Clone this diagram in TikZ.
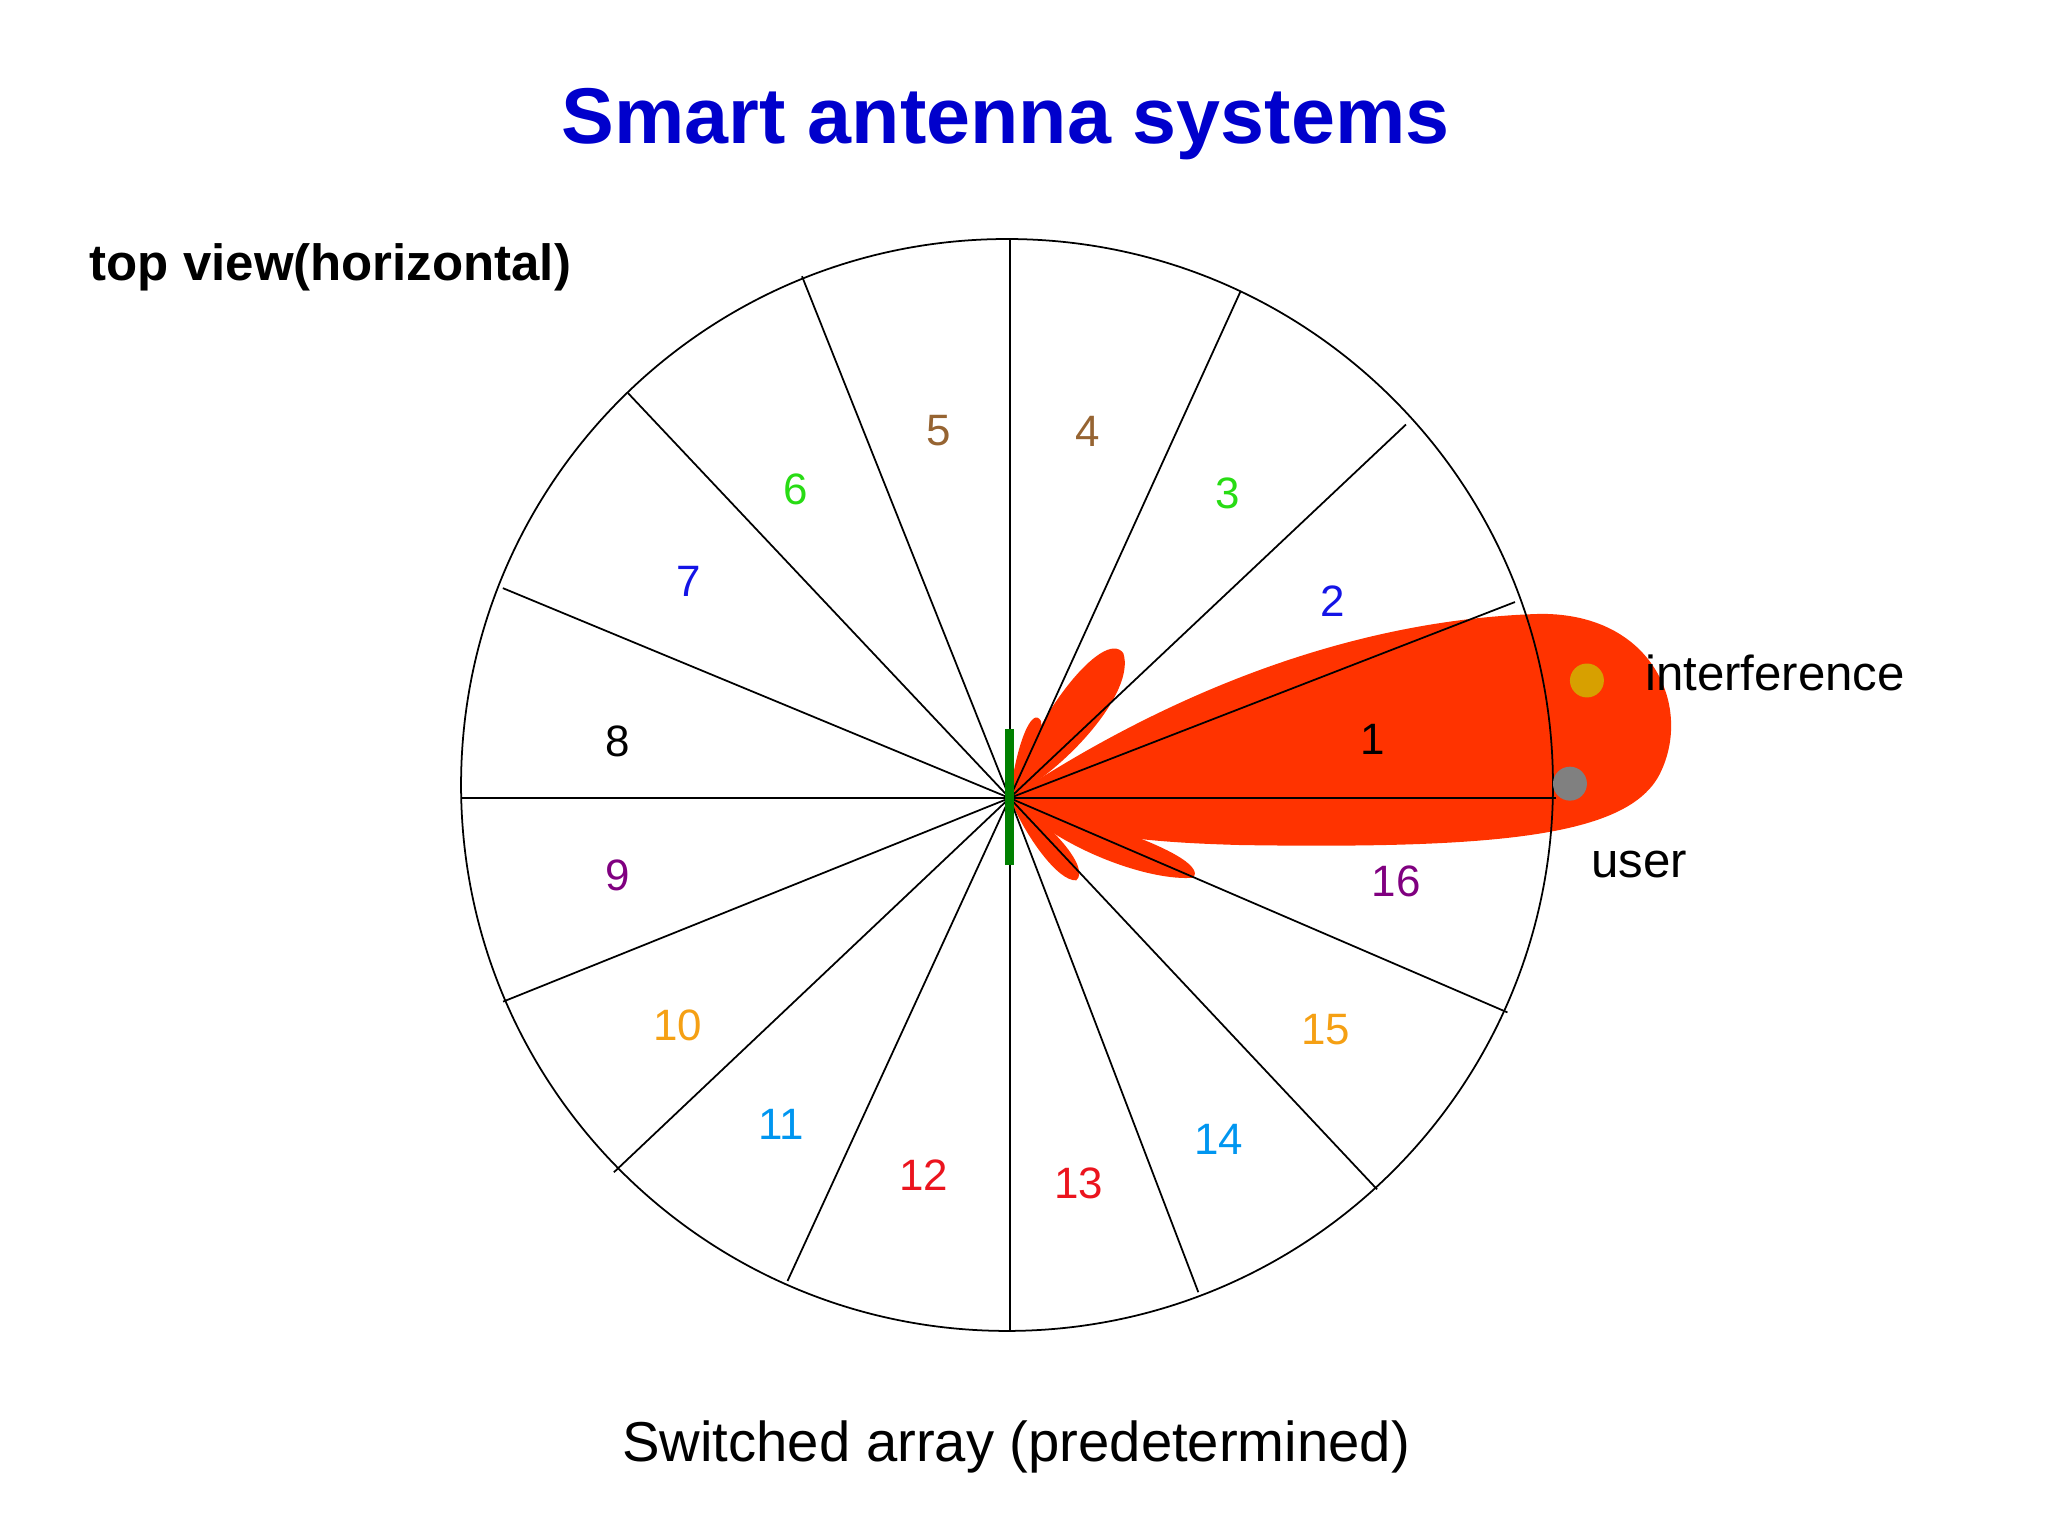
\documentclass[tikz,border=0pt]{standalone}
\usepackage{fontspec}
\setmainfont{Liberation Sans}
\usetikzlibrary{positioning}
\definecolor{titleblue}{RGB}{0,0,204}
\definecolor{lobered}{RGB}{255,51,0}
\definecolor{nbrown}{RGB}{150,100,50}
\definecolor{ngreen}{RGB}{40,220,20}
\definecolor{nblue}{RGB}{20,20,230}
\definecolor{npurple}{RGB}{128,0,128}
\definecolor{norange}{RGB}{245,160,20}
\definecolor{nsky}{RGB}{0,150,240}
\definecolor{nred}{RGB}{235,20,30}
\definecolor{dotgold}{RGB}{215,160,0}
\tikzset{
  sector/.style={font=\fontsize{12.5}{15}\selectfont},
  lobe/.style={fill=lobered,draw=none},
}
\begin{document}
\begin{tikzpicture}[x=0.01306cm,y=-0.01306cm]
\useasboundingbox (0,0) rectangle (1568,1176);
\node[font=\bfseries\fontsize{22.5}{27}\selectfont,text=titleblue] (title) at (770,95) {Smart antenna systems};
\node[font=\bfseries\fontsize{14.5}{17}\selectfont] (view) at (253,205) {top view(horizontal)};
\coordinate (o) at (773,611);
% beam pattern
\fill[lobe] (o) .. controls (850,560) and (1000,475) .. (1180,470)
  .. controls (1265,470) and (1295,540) .. (1272,590)
  .. controls (1250,640) and (1150,650) .. (950,647)
  .. controls (880,645) and (810,640) .. (o);
\fill[lobe] (o) .. controls (790,550) and (845,480) .. (860,500)
  .. controls (870,530) and (815,590) .. (o);
\fill[lobe] (o) .. controls (778,570) and (790,540) .. (797,552)
  .. controls (800,575) and (785,595) .. (o);
\fill[lobe] (o) .. controls (830,625) and (925,655) .. (914,672)
  .. controls (880,675) and (810,650) .. (o);
\fill[lobe] (o) .. controls (805,630) and (835,665) .. (824,674)
  .. controls (810,675) and (785,640) .. (o);
% sectors
\draw[line width=0.5pt] (771,601) circle (418);
\foreach \a/\r in {0/418,21.2/415,43.3/417,65.5/426,90/428,111.7/430,133.3/426,157.5/420,180/420,
  201.9/418,223.4/417,245.3/407,270/408,290.9/405,313.2/411,336.7/415}
  \draw[line width=0.5pt] (o) -- ({773+\r*cos(\a)},{611-\r*sin(\a)});
\draw[green!50!black,line width=2.5pt] (773,558) -- (773,662);
\foreach \n/\x/\y/\c in {1/1051/566/black,2/1020/460/nblue,3/940/378/ngreen,4/833/330/nbrown,
  5/719/330/nbrown,6/609/375/ngreen,7/527/445/nblue,8/473/568/black,9/473/670/npurple,
  10/519/785/norange,11/598/861/nsky,12/707/900/nred,13/826/906/nred,14/933/872/nsky,
  15/1015/788/norange,16/1069/675/npurple}
  \node[sector,text=\c] (s\n) at (\x,\y) {\n};
\fill[dotgold] (1215,521) circle (13);
\fill[gray] (1202,600) circle (13);
\node[font=\fontsize{14}{17}\selectfont,anchor=west] (intf) at (1250,515) {interference};
\node[font=\fontsize{14}{17}\selectfont] (user) at (1255,662) {user};
\node[font=\fontsize{16}{19}\selectfont] (caption) at (778,1108) {Switched array (predetermined)};
\end{tikzpicture}
\end{document}
